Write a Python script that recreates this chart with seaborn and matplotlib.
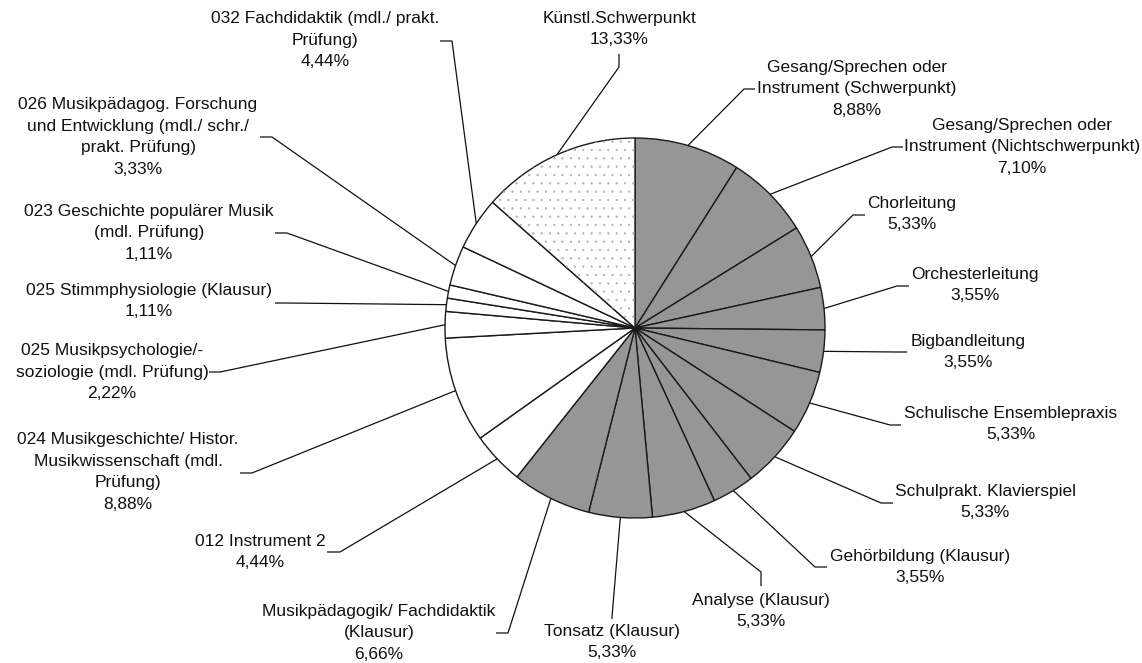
import matplotlib
matplotlib.use("Agg")
import numpy as np
import matplotlib.pyplot as plt
import seaborn as sns
from matplotlib.patches import Wedge

# --- data (clockwise from 12 o'clock) ---
labels = [
    "Gesang/Sprechen oder\nInstrument (Schwerpunkt)",
    "Gesang/Sprechen oder\nInstrument (Nichtschwerpunkt)",
    "Chorleitung",
    "Orchesterleitung",
    "Bigbandleitung",
    "Schulische Ensemblepraxis",
    "Schulprakt. Klavierspiel",
    "Gehörbildung (Klausur)",
    "Analyse (Klausur)",
    "Tonsatz (Klausur)",
    "Musikpädagogik/ Fachdidaktik\n(Klausur)",
    "012 Instrument 2",
    "024 Musikgeschichte/ Histor.\nMusikwissenschaft (mdl.\nPrüfung)",
    "025 Musikpsychologie/-\nsoziologie (mdl. Prüfung)",
    "025 Stimmphysiologie (Klausur)",
    "023 Geschichte populärer Musik\n(mdl. Prüfung)",
    "026 Musikpädagog. Forschung\nund Entwicklung (mdl./ schr./\nprakt. Prüfung)",
    "032 Fachdidaktik (mdl./ prakt.\nPrüfung)",
    "Künstl.Schwerpunkt",
]
values = [8.88, 7.10, 5.33, 3.55, 3.55, 5.33, 5.33, 3.55, 5.33, 5.33, 6.66,
          4.44, 8.88, 2.22, 1.11, 1.11, 3.33, 4.44, 13.33]
groups = ["schwer"] * 11 + ["neben"] * 7 + ["kuenstl"]

# --- layout (pixel positions in the 1142x663 image) ---
W, H = 1142, 663
CX, CY, R = 635, 328, 190
text_pos = [(857, 89), (1022, 147), (912, 214), (975, 285), (968, 352),
            (1011, 424), (985, 502), (920, 567), (761, 611), (612, 642),
            (379, 633), (260, 552), (128, 472), (112, 372), (149, 301),
            (149, 233), (138, 137), (325, 40), (619, 29)]
elbow_pos = [(744, 89), (892, 147), (853, 215), (897, 286), (896, 352),
             (890, 425), (881, 503), (815, 567), (761, 572), (612, 617),
             (508, 633), (340, 552), (252, 473), (220, 372), (286, 303),
             (287, 233), (272, 137), (452, 41), (619, 67)]
stub_pos = [(755, 89), (903, 147), (865, 215), (909, 286), (907, 352),
            (901, 425), (893, 503), (827, 567), (761, 586), (612, 619),
            (496, 633), (327, 552), (240, 473), (209, 372), (275, 303),
            (275, 233), (260, 137), (440, 41), (619, 54)]


def px(p):
    return ((p[0] - CX) / R, (CY - p[1]) / R)


palette = {"schwer": "#969696", "neben": "#ffffff", "kuenstl": "#ffffff"}
colors = [palette[g] for g in groups]

sns.set_theme(style="white")
plt.rcParams["font.family"] = ["Liberation Sans", "DejaVu Sans"]
plt.rcParams["hatch.linewidth"] = 0.4

fig = plt.figure(figsize=(W / 100, H / 100), dpi=100)
ax = fig.add_axes([0, 0, 1, 1])

wedges, _ = ax.pie(values, startangle=90, counterclock=False, colors=colors,
                   wedgeprops=dict(edgecolor="#1a1a1a", linewidth=1.0))

# dotted fill for the Künstl. Schwerpunkt slice
for w, g in zip(wedges, groups):
    if g == "kuenstl":
        ax.add_patch(Wedge((0, 0), 1, w.theta1, w.theta2, facecolor="none",
                           edgecolor="#b0b0b0", hatch="..", linewidth=0, zorder=w.get_zorder() + 0.1))

# leader lines + labels
for w, lab, val, tp, ep, sp in zip(wedges, labels, values, text_pos, elbow_pos, stub_pos):
    mid = np.deg2rad((w.theta1 + w.theta2) / 2)
    x0, y0 = np.cos(mid), np.sin(mid)
    ex, ey = px(ep)
    sx, sy = px(sp)
    ax.plot([x0, ex, sx], [y0, ey, sy], color="#111111", lw=0.9, solid_capstyle="butt")
    tx, ty = px(tp)
    pct = f"{val:.2f}".replace(".", ",") + "%"
    ax.text(tx, ty, f"{lab}\n{pct}", ha="center", va="center", multialignment="center",
            fontsize=12.5, linespacing=1.56, color="#111111")

ax.set_xlim(-CX / R, (W - CX) / R)
ax.set_ylim((CY - H) / R, CY / R)
ax.set_aspect("equal", adjustable="box")
ax.set_axis_off()

fig.savefig("out.png", dpi=100, facecolor="white")
